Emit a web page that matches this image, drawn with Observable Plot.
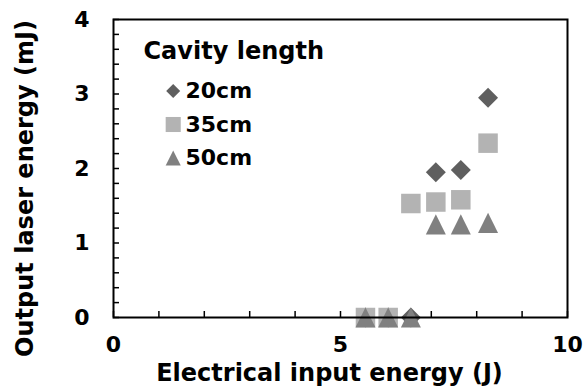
<!DOCTYPE html>
<html><head><meta charset="utf-8">
<script src="https://cdn.jsdelivr.net/npm/d3@7"></script>
<script src="https://cdn.jsdelivr.net/npm/@observablehq/plot@0.6"></script>
<style>
body{margin:0;background:#fff;}
#chart svg{display:block;}
</style></head><body><div id="chart"></div>
<script>
// ---- data ----
const inputEnergy = [5.55, 6.05, 6.55, 7.1, 7.65, 8.25];
const series = ["20cm", "35cm", "50cm"];
const output20 = [0, 0, 0, 1.95, 1.98, 2.95];
const output35 = [0, 0, 1.53, 1.55, 1.58, 2.34];
const output50 = [0, 0, 0, 1.25, 1.25, 1.27];
const xTickLabels = [0, 5, 10];
const yTickLabels = [0, 1, 2, 3, 4];
const legendTitle = "Cavity length";
const xTitle = "Electrical input energy (J)";
const yTitle = "Output laser energy (mJ)";

// ---- styles ----
const triangleBox = {
  draw(ctx, size) {
    const w = Math.sqrt(size) / 2;
    ctx.moveTo(0, -w); ctx.lineTo(w, w); ctx.lineTo(-w, w); ctx.closePath();
  }
};
const styles = {
  "20cm": {symbol: "diamond2", fill: "#5f5f5f", r: 9.0, lr: 6.3},
  "35cm": {symbol: "square", fill: "#b3b3b3", r: 11.0, lr: 8.5},
  "50cm": {symbol: triangleBox, fill: "#808080", r: 11.3, lr: 8.5}
};
const values = {"20cm": output20, "35cm": output35, "50cm": output50};

const pointMarks = series.map(s => {
  const rows = inputEnergy.map((x, i) => ({x, y: values[s][i]}));
  const st = styles[s];
  return Plot.dot(rows, {x: "x", y: "y", symbol: st.symbol, fill: st.fill, r: st.r, stroke: "none"});
});

const legendMarks = series.flatMap((s, i) => {
  const st = styles[s];
  const dy = 71.5 + i * 33.5;
  return [
    Plot.dot([s], {frameAnchor: "top-left", dx: 59.7, dy, symbol: st.symbol, fill: st.fill, r: st.lr, stroke: "none"}),
    Plot.text([s], {frameAnchor: "top-left", dx: 72, dy, text: d => d, textAnchor: "start", lineAnchor: "middle", fontSize: 22})
  ];
});

const chart = Plot.plot({
  width: 584, height: 389,
  marginLeft: 113, marginRight: 17, marginTop: 19, marginBottom: 72,
  style: {fontFamily: "DejaVu Sans", fontWeight: "bold", color: "black", background: "white"},
  x: {domain: [0, 10], axis: null},
  y: {domain: [0, 4], axis: null},
  marks: [
    Plot.axisX({ticks: d3.range(0, 11, 1), tickSize: -6, tickFormat: () => "", label: null, strokeWidth: 1.5}),
    Plot.axisY({ticks: d3.ticks(0, 4, 20), tickSize: -6, tickFormat: () => "", label: null, strokeWidth: 1.5}),
    Plot.axisX({ticks: xTickLabels, tickSize: 0, tickPadding: 19, tickFormat: d3.format("d"), fontSize: 22, label: null}),
    Plot.axisY({ticks: yTickLabels, tickSize: 0, tickPadding: 24, tickFormat: d3.format("d"), fontSize: 22, label: null}),
    ...pointMarks,
    Plot.frame({stroke: "black", strokeWidth: 2}),
    Plot.text([legendTitle], {frameAnchor: "top-left", dx: 30, dy: 32, text: d => d, textAnchor: "start", lineAnchor: "middle", fontSize: 24}),
    ...legendMarks,
    Plot.text([xTitle], {frameAnchor: "bottom", dx: -11, dy: 56, text: d => d, textAnchor: "middle", lineAnchor: "middle", fontSize: 24}),
    Plot.text([yTitle], {frameAnchor: "left", dx: -88, dy: 20, rotate: -90, text: d => d, textAnchor: "middle", lineAnchor: "middle", fontSize: 24})
  ]
});
document.getElementById("chart").appendChild(chart);
</script>
</body></html>
